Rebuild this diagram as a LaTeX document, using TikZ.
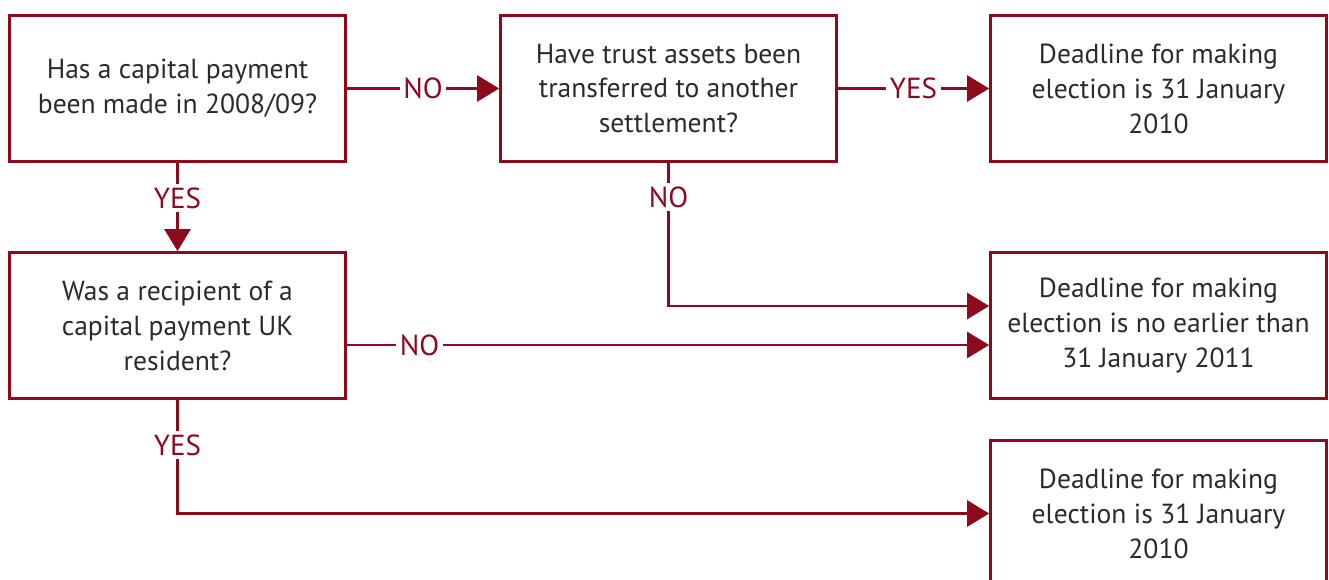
\documentclass[tikz,border=0pt]{standalone}
\usepackage{fontspec}
\setmainfont{PT Sans}
\usetikzlibrary{arrows.meta,calc}
\definecolor{wine}{HTML}{8C0A1C}
\definecolor{ink}{HTML}{2B2B2B}
\begin{document}
\begin{tikzpicture}[x=0.02cm, y=-0.02cm,
  every node/.style={font=\fontsize{15.7}{19.9}\selectfont},
  b/.style={draw=wine, line width=1.6pt, text=ink, align=center, minimum width=6.72cm, minimum height=2.92cm, inner sep=0pt},
  arr/.style={draw=wine, line width=1.6pt, -{Triangle[length=0.44cm, width=0.52cm]}},
  lbl/.style={fill=white, text=wine, inner sep=2pt, font=\fontsize{16.5}{19.9}\selectfont}]
  \clip (0,0) rectangle (1329,580);
  \node[b] (pay) at (177.5,88.5) {Has a capital payment\\been made in 2008/09?};
  \node[b] (trans) at (668.5,88.5) {Have trust assets been\\transferred to another\\settlement?};
  \node[b] (dl1) at (1158.5,88.5) {Deadline for making\\election is 31 January\\2010};
  \node[b] (res) at (177.5,325.5) {Was a recipient of a\\capital payment UK\\resident?};
  \node[b] (dl2) at (1158.5,325.5) {Deadline for making\\election is no earlier than\\31 January 2011};
  \node[b] (dl3) at (1158.5,513.5) {Deadline for making\\election is 31 January\\2010};
  \coordinate (in1) at ($(dl2.west)+(0,-19.5)$);
  \coordinate (in2) at ($(dl2.west)+(0,19.5)$);
  \draw[arr] (pay) -- node[lbl]{NO} (trans);
  \draw[arr] (trans) -- node[lbl]{YES} (dl1);
  \draw[arr] (pay) -- node[lbl, pos=0.4]{YES} (res);
  \draw[arr] (trans) |- node[lbl, pos=0.12]{NO} (in1);
  \draw[arr] (res.east |- in2) -- node[lbl, pos=0.113]{NO} (in2);
  \draw[arr] (res) |- node[lbl, pos=0.2]{YES} (dl3);
\end{tikzpicture}
\end{document}
